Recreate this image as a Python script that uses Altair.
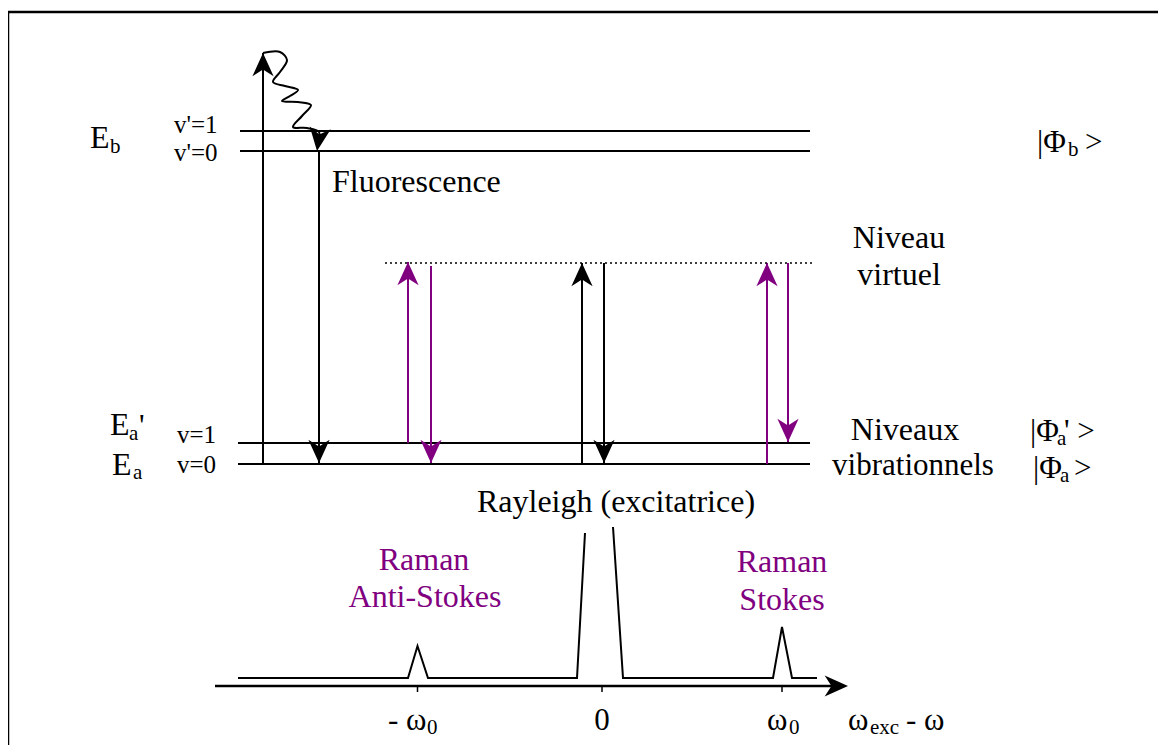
import altair as alt
import pandas as pd

PURPLE = "#800080"
FONT = "Liberation Serif"

# ---------------- data (diagram units = page pixels) ----------------
# horizontal energy levels
level_y = [131, 151, 443, 464]
level_x0 = [240, 240, 238, 238]
level_x1 = [810, 810, 810, 810]

# virtual level (dotted)
virtual_y = 263
virtual_x = [385, 812]

# vertical transitions: x, start y, end y (arrow tip), colour
arrow_x = [263, 319, 408, 431, 582, 604, 767, 788]
arrow_y0 = [464, 151, 443, 266, 464, 263, 464, 263]
arrow_y1 = [53, 463, 262, 463, 263, 463, 263, 442]
arrow_col = ["black", "black", PURPLE, PURPLE, "black", "black", PURPLE, PURPLE]

# wavy relaxation line
wave_x = [263, 280, 287, 280, 273, 285, 298, 290, 282, 298, 311, 302, 293, 307, 319, 318]
wave_y = [53, 52, 60, 72, 82, 86, 90, 96, 101, 102, 105, 116, 127, 128, 132, 142]
wave_tip = (317, 151)

# spectrum (two strokes, broken at the Rayleigh peak)
spec_a_x = [238, 408, 417.5, 428, 577, 585]
spec_a_y = [678, 678, 646, 678, 678, 533]
spec_b_x = [613, 623, 773, 782, 792, 817]
spec_b_y = [527, 678, 678, 627, 678, 678]

# frequency axis
axis_x = [215, 840]
axis_y = 686
axis_tip = 848
tick_x = [417.5, 602, 782]
tick_len = 6

# frame
frame_x = [1158, 8, 8]
frame_y = [12, 12, 745]

# texts: left aligned (text, x, baseline y, size)
left_text = ["E", "b", "v'=1", "v'=0", "Fluorescence", "|Φ", "b", ">",
             "E", "a", "'", "E", "a", "v=1", "v=0",
             "|Φ", "a", "' >", "|Φ", "a", ">",
             "- ω", "0", "ω", "0", "ω", "exc", "- ω"]
left_x = [90, 110, 174, 174, 332, 1037, 1068, 1085,
          110, 129, 139, 112, 133, 177, 177,
          1030, 1057, 1064, 1033, 1060, 1074,
          388, 427, 767, 789, 848, 870, 906]
left_y = [148, 153, 133, 161, 192, 152, 156, 152,
          435, 440, 436, 475, 479, 443, 473,
          441, 445, 441, 478, 482, 478,
          730, 734, 730, 734, 730, 734, 730]
left_size = [32, 21, 25, 25, 32, 31, 21, 31,
             32, 21, 31, 32, 21, 25, 25,
             31, 21, 31, 31, 21, 31,
             31, 21, 31, 21, 31, 21, 31]

# texts: centred
center_text = ["Niveau", "virtuel", "Niveaux", "vibrationnels", "Rayleigh (excitatrice)",
               "Raman", "Anti-Stokes", "Raman", "Stokes", "0"]
center_x = [899, 899, 905, 913, 616, 424, 425, 782, 782, 602]
center_y = [248, 285, 440, 475, 512, 570, 607, 572, 610, 730]
center_size = [32, 32, 32, 31, 32, 32, 32, 32, 32, 31]
center_col = ["black", "black", "black", "black", "black", PURPLE, PURPLE, PURPLE, PURPLE, "black"]

# ---------------- build tables ----------------
rows = []
def add_seg(name, xs, ys, color, w):
    for i, (xx, yy) in enumerate(zip(xs, ys)):
        rows.append({"seg": name, "o": i, "x": xx, "y": yy, "c": color, "w": w})

add_seg("frame_l", frame_x[1:], frame_y[1:], "black", 2.5)
add_seg("frame_t", frame_x[:2], frame_y[:2], "black", 2.5)
for i, (yy, a, b) in enumerate(zip(level_y, level_x0, level_x1)):
    add_seg(f"lev{i}", [a, b], [yy, yy], "black", 2)
for i, (xx, a, b, c) in enumerate(zip(arrow_x, arrow_y0, arrow_y1, arrow_col)):
    add_seg(f"arr{i}", [xx, xx], [a, b], c, 2)
add_seg("specA", spec_a_x, spec_a_y, "black", 2)
add_seg("specB", spec_b_x, spec_b_y, "black", 2)
add_seg("axis", axis_x, [axis_y, axis_y], "black", 2.5)
for i, tx in enumerate(tick_x):
    add_seg(f"tick{i}", [tx, tx], [axis_y, axis_y + tick_len], "black", 1.5)
lines_df = pd.DataFrame(rows)

wave_df = pd.DataFrame({"o": list(range(len(wave_x))), "x": wave_x, "y": wave_y})
virt_df = pd.DataFrame({"x": virtual_x, "y": [virtual_y] * 2})

heads = []
for xx, a, b, c in zip(arrow_x, arrow_y0, arrow_y1, arrow_col):
    heads.append({"x": xx, "y": b, "ang": 0 if b < a else 180, "c": c})
heads.append({"x": wave_tip[0], "y": wave_tip[1], "ang": 188, "c": "black"})
heads.append({"x": axis_tip, "y": axis_y, "ang": 90, "c": "black"})
heads_df = pd.DataFrame(heads)

left_df = pd.DataFrame({"t": left_text, "x": left_x, "y": left_y, "s": left_size})
center_df = pd.DataFrame({"t": center_text, "x": center_x, "y": center_y, "s": center_size, "c": center_col})

# ---------------- scales ----------------
X = alt.X("x:Q", scale=alt.Scale(domain=[8, 1158], nice=False, zero=False), axis=None)
Y = alt.Y("y:Q", scale=alt.Scale(domain=[8, 745], nice=False, zero=False, reverse=True), axis=None)

lines = alt.Chart(lines_df).mark_line(strokeCap="butt").encode(
    x=X, y=Y, detail="seg:N", order="o:Q",
    color=alt.Color("c:N", scale=None),
    size=alt.Size("w:Q", scale=None),
)

wave = alt.Chart(wave_df).mark_line(interpolate="catmull-rom", strokeWidth=2, color="black").encode(
    x=X, y=Y, order="o:Q"
)

virt = alt.Chart(virt_df).mark_line(strokeDash=[2, 3], strokeWidth=1.5, color="black").encode(x=X, y=Y)

ARROW = "M0,0 L0.5,1.1 L0,0.78 L-0.5,1.1 Z"
arrowheads = alt.Chart(heads_df).mark_point(shape=ARROW, filled=True, size=1800, opacity=1).encode(
    x=X, y=Y,
    angle=alt.Angle("ang:Q", scale=None),
    color=alt.Color("c:N", scale=None),
)

txt_left = alt.Chart(left_df).mark_text(align="left", baseline="alphabetic", font=FONT, color="black").encode(
    x=X, y=Y, text="t:N", size=alt.Size("s:Q", scale=None)
)

txt_center = alt.Chart(center_df).mark_text(align="center", baseline="alphabetic", font=FONT).encode(
    x=X, y=Y, text="t:N", size=alt.Size("s:Q", scale=None), color=alt.Color("c:N", scale=None)
)

chart = alt.layer(lines, wave, virt, arrowheads, txt_left, txt_center).properties(
    width=1150, height=737, padding=0, autosize=alt.AutoSizeParams(type="none")
).configure(font=FONT).configure_text(font=FONT).configure_view(stroke=None)

chart.save("out.html", embed_options={"renderer": "svg", "actions": False})
